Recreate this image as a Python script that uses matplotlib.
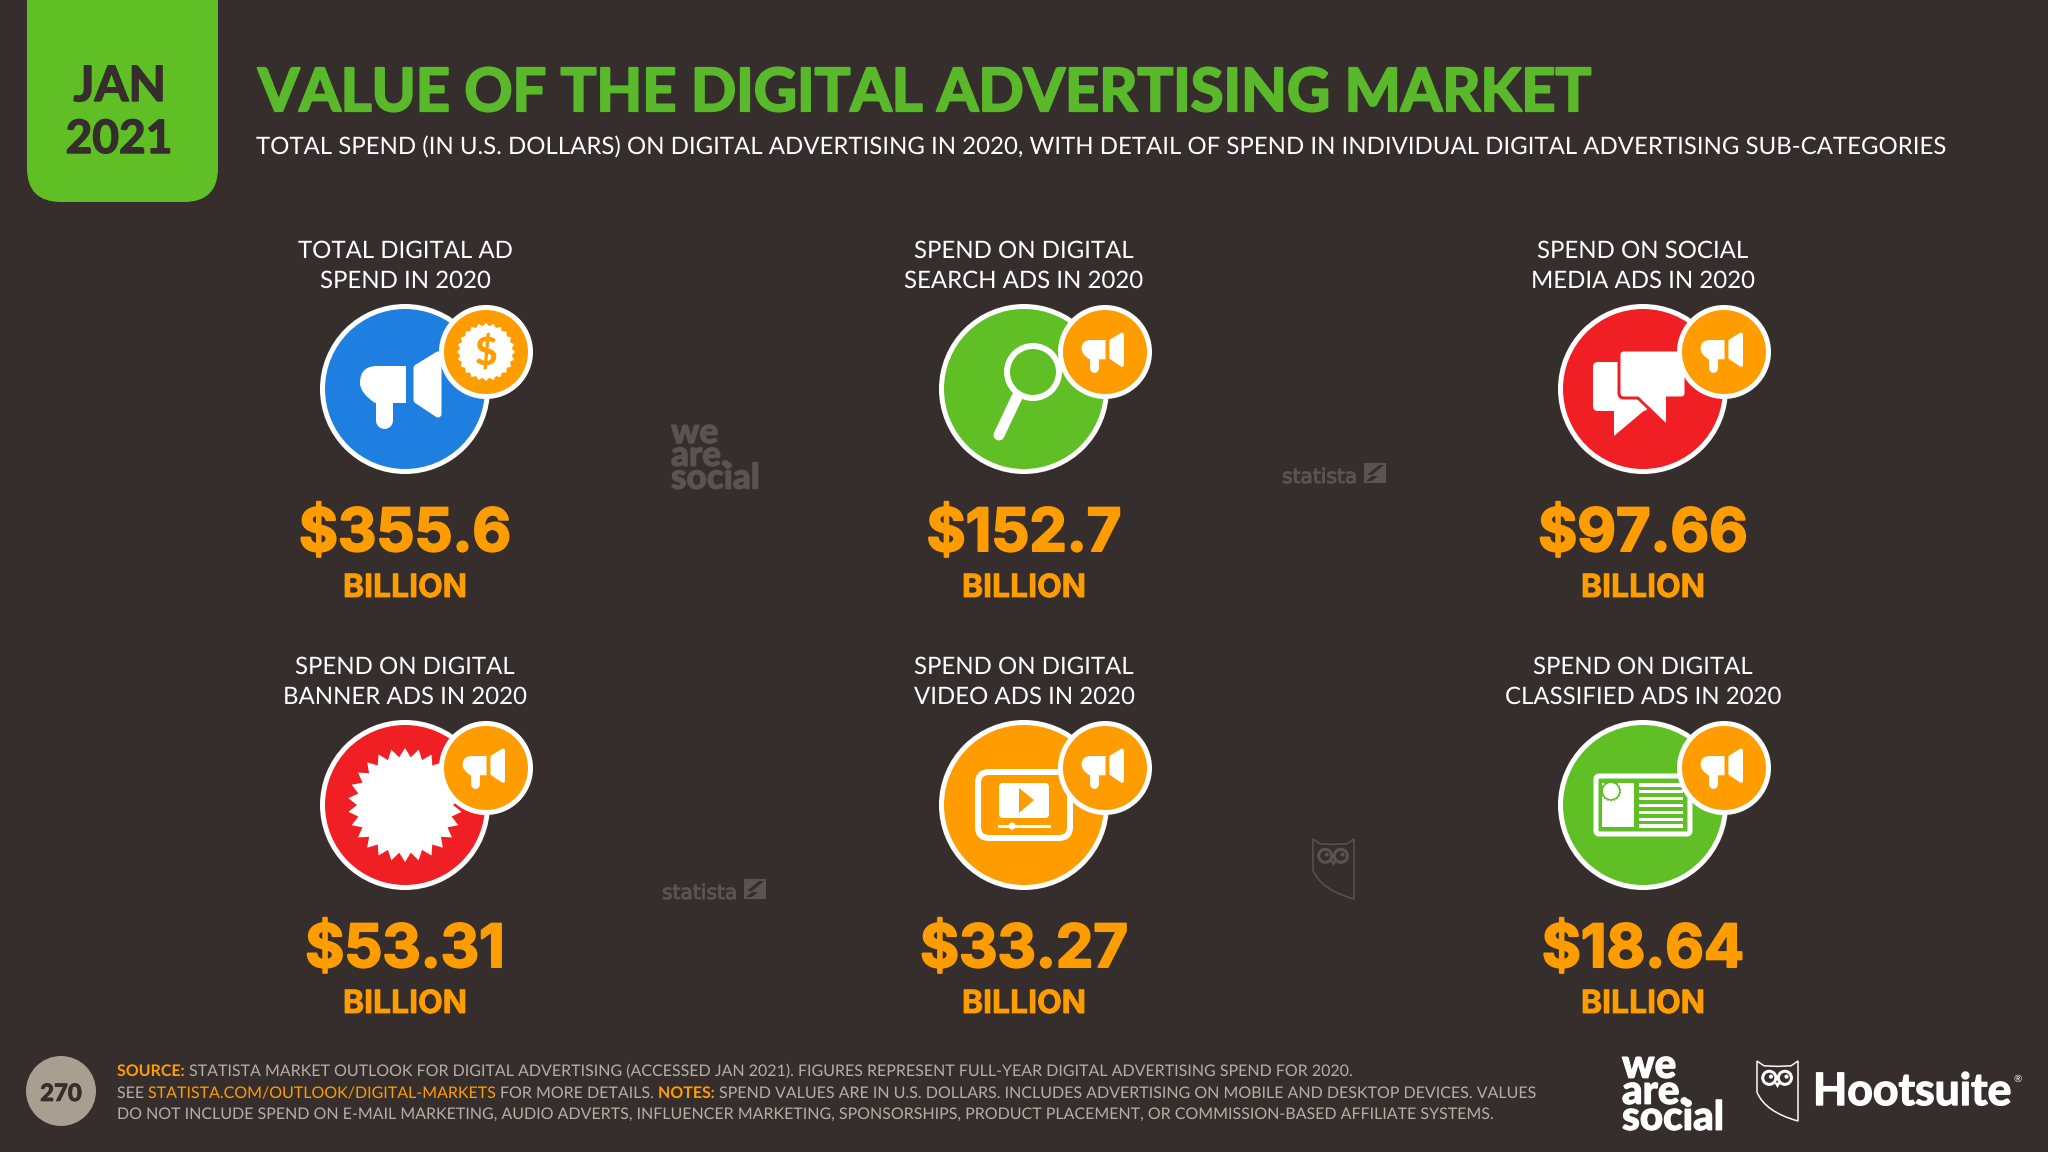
import numpy as np
import matplotlib
matplotlib.use("Agg")
import matplotlib.pyplot as plt
import matplotlib.patheffects as pe
from matplotlib.patches import Circle, FancyBboxPatch, Polygon, PathPatch, Rectangle
from matplotlib.path import Path

plt.rcParams["text.hinting"] = "no_hinting"
plt.rcParams["text.hinting_factor"] = 1

# slide text
date_lines = ["JAN", "2021"]
title = "VALUE OF THE DIGITAL ADVERTISING MARKET"
subtitle = "TOTAL SPEND (IN U.S. DOLLARS) ON DIGITAL ADVERTISING IN 2020, WITH DETAIL OF SPEND IN INDIVIDUAL DIGITAL ADVERTISING SUB-CATEGORIES"
page_number = "270"

# panels
panel_top = ["TOTAL DIGITAL AD", "SPEND ON DIGITAL", "SPEND ON SOCIAL",
             "SPEND ON DIGITAL", "SPEND ON DIGITAL", "SPEND ON DIGITAL"]
panel_bottom = ["SPEND IN 2020", "SEARCH ADS IN 2020", "MEDIA ADS IN 2020",
                "BANNER ADS IN 2020", "VIDEO ADS IN 2020", "CLASSIFIED ADS IN 2020"]
panel_values = ["$355.6", "$152.7", "$97.66", "$53.31", "$33.27", "$18.64"]
panel_unit = "BILLION"

# footer: list of (text, is_bold, is_orange) runs
footer_1 = [("SOURCE: ", True, True),
            ("STATISTA MARKET OUTLOOK FOR DIGITAL ADVERTISING (ACCESSED JAN 2021). FIGURES REPRESENT FULL-YEAR DIGITAL ADVERTISING SPEND FOR 2020.", False, False)]
footer_2 = [("SEE ", False, False), ("STATISTA.COM/OUTLOOK/DIGITAL-MARKETS ", False, True),
            ("FOR MORE DETAILS. ", False, False), ("NOTES: ", True, True),
            ("SPEND VALUES ARE IN U.S. DOLLARS. INCLUDES ADVERTISING ON MOBILE AND DESKTOP DEVICES. VALUES", False, False)]
footer_3 = [("DO NOT INCLUDE SPEND ON E-MAIL MARKETING, AUDIO ADVERTS, INFLUENCER MARKETING, SPONSORSHIPS, PRODUCT PLACEMENT, OR COMMISSION-BASED AFFILIATE SYSTEMS.", False, False)]

BG = "#362E2C"
GREEN = "#5FBF24"
TITLE_GREEN = "#5AB92A"
ORANGE = "#FF9D00"
RED = "#F01F23"
BLUE = "#1F7FE0"
WHITE = "#FFFFFF"
GREY = "#B5AEA6"
MARK = "#5A5351"
PT = 0.72  # px -> pt at dpi 100
HEAVY = dict(family="Inter", fontweight="bold")

icon_colors = [BLUE, GREEN, RED, RED, ORANGE, GREEN]

fig = plt.figure(figsize=(20.48, 11.52), dpi=100, facecolor=BG)
ax = fig.add_axes([0, 0, 1, 1])
ax.set_xlim(0, 2048)
ax.set_ylim(1152, 0)
ax.axis("off")
renderer = fig.canvas.get_renderer()


def text_width(s, size, **kw):
    t = ax.text(0, 0, s + ".", fontsize=size, **kw)
    w1 = t.get_window_extent(renderer).width
    t.set_text(".")
    w2 = t.get_window_extent(renderer).width
    t.remove()
    return w1 - w2


def fit(s, width, **kw):
    # second pass because widths do not scale quite linearly
    size = 30 * width / text_width(s, 30, **kw)
    return size * width / text_width(s, size, **kw)


def thicken(t, color, w):
    t.set_path_effects([pe.withStroke(linewidth=w, foreground=color)])
    return t


def fit_text(x, y, s, width, ha="left", color=WHITE, stroke=0, **kw):
    t = ax.text(x, y, s, fontsize=fit(s, width, **kw), ha=ha, va="baseline", color=color, **kw)
    if stroke:
        thicken(t, color, stroke)
    return t


def megaphone(cx, cy, s, color=WHITE):
    body = [(1, -23), (-28, -23), (-45, -23), (-45, -6), (-45, 4), (-30, 14), (1, 14), (1, -23)]
    codes = [Path.MOVETO, Path.LINETO, Path.CURVE3, Path.CURVE3, Path.CURVE3, Path.CURVE3, Path.LINETO, Path.CLOSEPOLY]
    pts = [(cx + s * a, cy + s * b) for a, b in body]
    ax.add_patch(PathPatch(Path(pts, codes), fc=color, ec="none", zorder=6))
    ax.plot([cx - 21 * s, cx - 21 * s], [cy + 8 * s, cy + 31 * s], color=color,
            lw=17 * s * PT, solid_capstyle="round", zorder=6)
    horn = [(12, -21), (33, -34), (33, 25), (12, 11)]
    ax.add_patch(Polygon([(cx + s * a, cy + s * b) for a, b in horn], closed=True, fc=color, ec=color,
                         lw=7 * s * PT, joinstyle="round", zorder=6))


def starburst(cx, cy, r_out, r_in, n, color=WHITE, z=6):
    ang = np.linspace(0, 2 * np.pi, 2 * n, endpoint=False) - np.pi / 2
    rad = np.where(np.arange(2 * n) % 2 == 0, r_out, r_in)
    ax.add_patch(Polygon(np.column_stack([cx + rad * np.cos(ang), cy + rad * np.sin(ang)]),
                         closed=True, fc=color, ec="none", zorder=z))


def round_box(x0, y0, x1, y1, r, fc, ec="none", lw=0, z=5):
    ax.add_patch(FancyBboxPatch((x0, y0), x1 - x0, y1 - y0, boxstyle=f"round,pad=0,rounding_size={r}",
                                fc=fc, ec=ec, lw=lw * PT, zorder=z))


def search_icon(cx, cy, color):
    lx, ly = cx + 9, cy - 17
    ax.add_patch(Circle((lx, ly), 26, fc=color, ec=WHITE, lw=6 * PT, zorder=5))
    ax.plot([cx - 7, cx - 25], [cy + 8, cy + 46], color=WHITE, lw=11 * PT, solid_capstyle="round", zorder=5)


def chat_icon(cx, cy, color):
    round_box(cx - 50, cy - 27, cx + 5, cy + 22, 5, WHITE)
    ax.add_patch(Polygon([(cx - 29, cy + 20), (cx - 29, cy + 47), (cx + 3, cy + 20)], closed=True, fc=WHITE, ec="none", zorder=5))
    round_box(cx - 24, cy - 39, cx + 43, cy + 9, 5, WHITE, ec=color, lw=3, z=5.2)
    ax.add_patch(Polygon([(cx - 5, cy + 7), (cx + 23, cy + 34), (cx + 23, cy + 7)], closed=True, fc=WHITE, ec="none", zorder=5.3))
    ax.plot([cx - 4, cx + 20], [cy + 10, cy + 33], color=color, lw=3 * PT, zorder=5.2)


def video_icon(cx, cy, color):
    round_box(cx - 46, cy - 33, cx + 46, cy + 33, 11, color, ec=WHITE, lw=6)
    round_box(cx - 25, cy - 22, cx + 25, cy + 13, 4, WHITE, z=5.2)
    ax.add_patch(Polygon([(cx - 5, cy - 17), (cx + 10, cy - 5), (cx - 5, cy + 8)], closed=True, fc=color, ec="none", zorder=5.3))
    ax.plot([cx - 25, cx + 25], [cy + 21, cy + 21], color=WHITE, lw=3 * PT, zorder=5.2)
    ax.add_patch(Circle((cx - 12, cy + 21), 3.5, fc=WHITE, ec="none", zorder=5.3))


def classified_icon(cx, cy, color):
    round_box(cx - 47, cy - 29, cx + 47, cy + 29, 3, color, ec=WHITE, lw=5)
    ax.add_patch(Rectangle((cx - 41, cy - 22), 32, 44, fc=WHITE, ec="none", zorder=5.2))
    starburst(cx - 32, cy - 14, 10.5, 9.3, 18, color=color, z=5.3)
    ax.add_patch(Circle((cx - 32, cy - 14), 8, fc=WHITE, ec="none", zorder=5.4))
    for ly in np.linspace(cy - 20, cy + 21, 7):
        ax.add_patch(Rectangle((cx - 4, ly - 1.6), 44, 3.2, fc=WHITE, ec="none", zorder=5.2))


def owl(x, y, w, h, color, lw):
    def p(a, b):
        return (x + a * w, y + b * h)
    verts = [p(0, 0), p(.17, .08), p(.5, .09), p(.83, .08), p(1, 0), p(1, 1), p(.2, .85), p(0, .52), p(0, 0)]
    codes = [Path.MOVETO, Path.LINETO, Path.LINETO, Path.LINETO, Path.LINETO, Path.LINETO,
             Path.CURVE3, Path.CURVE3, Path.CLOSEPOLY]
    ax.add_patch(PathPatch(Path(verts, codes), fc="none", ec=color, lw=lw * PT, zorder=3))
    for a in (.3, .68):
        ax.add_patch(Circle(p(a, .28), w * .16, fc="none", ec=color, lw=lw * 2 * PT, zorder=3))
        ax.add_patch(Circle(p(a + .04, .26), w * .05, fc=color, ec="none", zorder=3))
    ax.add_patch(Polygon([p(.42, .36), p(.58, .36), p(.5, .45)], closed=True, fc=color, ec="none", zorder=3))


def statista(x, y):
    # x,y = left, baseline
    fit_text(x, y, "statista", 77, color=MARK, family="Liberation Sans Narrow", stroke=0.7)
    ax.add_patch(Rectangle((x + 82, y - 20), 22, 20, fc=MARK, ec="none", zorder=3))
    ax.add_patch(Polygon([(x + 85, y - 8), (x + 97, y - 18), (x + 102, y - 18), (x + 90, y - 8)], closed=True, fc=BG, ec="none", zorder=3.1))
    ax.add_patch(Polygon([(x + 84, y - 2), (x + 90, y - 7), (x + 96, y - 7), (x + 90, y - 2)], closed=True, fc=BG, ec="none", zorder=3.1))


def we_are_social(x, top, width, color):
    size = fit("social", width, family="Lato", fontweight="black")
    t = ax.text(x, top, "we\nare.\nsocial", fontsize=size, family="Lato", fontweight="black",
                color=color, ha="left", va="top", linespacing=0.65, zorder=3)
    thicken(t, color, 0.8)


# header tab
ax.add_patch(FancyBboxPatch((27, -60), 191, 262, boxstyle="round,pad=0,rounding_size=34", fc=GREEN, ec="none"))
fit_text(120, 101, date_lines[0], 93, ha="center", color=BG, family="Lato", fontweight="bold", stroke=1.0)
fit_text(119, 153, date_lines[1], 106, ha="center", color=BG, family="Lato", fontweight="bold", stroke=1.0)
fit_text(258, 111, title, 1344, color=TITLE_GREEN, family="Lato", fontweight="bold", stroke=1.6)
fit_text(256, 154, subtitle, 1646, family="Lato")

# panels
col_x = [405, 1024, 1643]
row_y = [389, 805]
icon_draw = [None, search_icon, chat_icon, None, video_icon, classified_icon]
label_size = fit(panel_top[1], 215, family="Lato")
value_size = fit(panel_values[0], 212, **HEAVY)
unit_size = fit(panel_unit, 124, **HEAVY)
for i, (top, bottom, val) in enumerate(zip(panel_top, panel_bottom, panel_values)):
    cx = col_x[i % 3]
    cy = row_y[i // 3]
    col = icon_colors[i]
    ax.text(cx, cy - 131, top, fontsize=label_size, family="Lato", color=WHITE, ha="center", va="baseline")
    ax.text(cx, cy - 101, bottom, fontsize=label_size, family="Lato", color=WHITE, ha="center", va="baseline")
    ax.add_patch(Circle((cx, cy), 85, fc=WHITE, ec="none", zorder=4))
    ax.add_patch(Circle((cx, cy), 80, fc=col, ec="none", zorder=4.1))
    if i == 0:
        megaphone(cx, cy, 1)
    elif i == 3:
        starburst(cx, cy, 57, 48, 26)
    else:
        icon_draw[i](cx, cy, col)
    bx, by = cx + 81, cy - 37
    ax.add_patch(Circle((bx, by), 47, fc=WHITE, ec="none", zorder=7))
    ax.add_patch(Circle((bx, by), 42, fc=ORANGE, ec="none", zorder=7.1))
    if i == 0:
        starburst(bx, by, 29, 26, 24, z=7.2)
        ax.text(bx, by + 1, "$", fontsize=28, family="Lato", fontweight="black", color=ORANGE, ha="center", va="center", zorder=7.3)
    else:
        megaphone(bx, by, 0.52)
        for art in ax.patches[-2:] + ax.lines[-1:]:
            art.set_zorder(7.2)
    thicken(ax.text(cx, cy + 162, val, fontsize=value_size, color=ORANGE, ha="center", va="baseline", **HEAVY), ORANGE, 1.5)
    thicken(ax.text(cx, cy + 208, panel_unit, fontsize=unit_size, color=ORANGE, ha="center", va="baseline", **HEAVY), ORANGE, 0.6)

# faded marks between the panels
we_are_social(671, 417, 89, MARK)
statista(1282, 483)
statista(662, 899)
owl(1313, 839, 41, 60, MARK, 1.5)

# footer
ax.add_patch(Circle((61, 1091), 35, fc="#A89F91", ec="none"))
fit_text(61, 1101, page_number, 41, ha="center", color=BG, family="Lato", fontweight="black", stroke=0.5)


def run_weight(bold):
    return "bold" if bold else "normal"


def footer_line(y, runs, width):
    size = 15.0
    for _ in range(2):
        total = sum(text_width(s, size, family="Lato", fontweight=run_weight(b)) for s, b, o in runs)
        size = size * width / total
    x = 117
    for s, bold, orange in runs:
        w = run_weight(bold)
        ax.text(x, y, s, fontsize=size, family="Lato", fontweight=w, color=ORANGE if orange else GREY, ha="left", va="baseline")
        x += text_width(s, size, family="Lato", fontweight=w)


footer_line(1076, footer_1, 1224)
footer_line(1098, footer_2, 1415)
footer_line(1119, footer_3, 1382)

# logos
we_are_social(1622, 1048, 102, WHITE)
owl(1757, 1061, 41, 60, WHITE, 1.5)
fit_text(1813, 1105, "Hootsuite", 198, family="Lato", fontweight="bold", stroke=1.0)
ax.text(2013, 1082, "®", fontsize=7, family="Lato", color=WHITE, ha="left", va="baseline")

fig.savefig("out.png", dpi=100, facecolor=BG)
